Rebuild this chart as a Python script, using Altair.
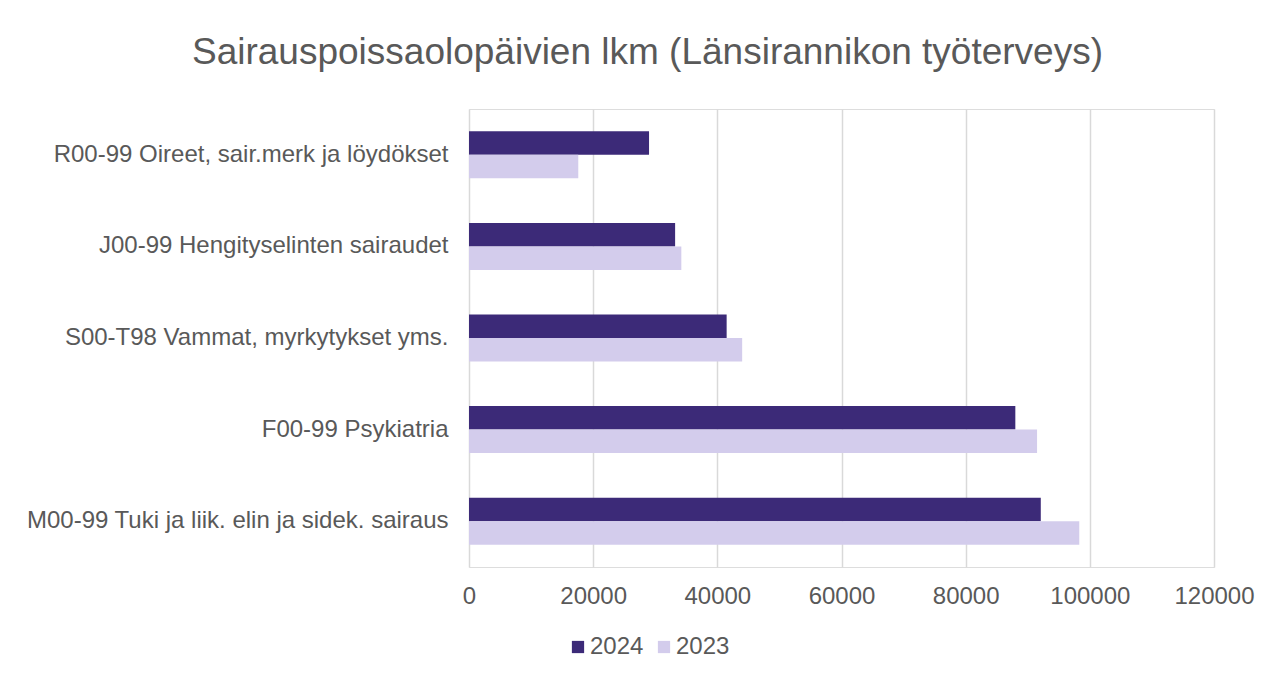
import altair as alt
import pandas as pd

categories = [
    "R00-99 Oireet, sair.merk ja löydökset",
    "J00-99 Hengityselinten sairaudet",
    "S00-T98 Vammat, myrkytykset yms.",
    "F00-99 Psykiatria",
    "M00-99 Tuki ja liik. elin ja sidek. sairaus",
]
values_2024 = [29000, 33200, 41500, 88000, 92100]
values_2023 = [17600, 34200, 44000, 91500, 98300]
series = ["2024", "2023"]
colors = ["#3C2A78", "#D3CCEC"]
x_ticks = [0, 20000, 40000, 60000, 80000, 100000, 120000]

rows = []
for c, v24, v23 in zip(categories, values_2024, values_2023):
    rows.append({"kategoria": c, "vuosi": "2024", "arvo": v24})
    rows.append({"kategoria": c, "vuosi": "2023", "arvo": v23})
df = pd.DataFrame(rows)

FONT = "Liberation Sans"
GREY = "#595959"

chart = (
    alt.Chart(df)
    .mark_bar(stroke=None)
    .encode(
        y=alt.Y(
            "kategoria:N",
            sort=categories,
            scale=alt.Scale(paddingInner=0.487, paddingOuter=0.2435),
            axis=alt.Axis(
                title=None,
                ticks=False,
                domain=False,
                labelPadding=21,
                labelFontSize=24,
                labelColor=GREY,
                labelFont=FONT,
                minExtent=456,
                maxExtent=456,
                labelLimit=460,
            ),
        ),
        yOffset=alt.YOffset(
            "vuosi:N",
            sort=series,
            scale=alt.Scale(paddingInner=0, paddingOuter=0),
        ),
        x=alt.X(
            "arvo:Q",
            scale=alt.Scale(domain=[0, 120000], nice=False),
            axis=alt.Axis(
                title=None,
                values=x_ticks,
                format="d",
                ticks=False,
                domain=False,
                grid=True,
                gridColor="#D9D9D9",
                gridWidth=1.5,
                labelPadding=17,
                labelFlush=False,
                labelFontSize=24,
                labelColor=GREY,
                labelFont=FONT,
            ),
        ),
        color=alt.Color(
            "vuosi:N",
            sort=series,
            scale=alt.Scale(domain=series, range=colors),
            legend=alt.Legend(
                title=None,
                orient="none",
                direction="horizontal",
                legendX=97,
                legendY=526,
                symbolType="square",
                symbolSize=150,
                symbolStrokeWidth=0,
                labelFontSize=24,
                labelColor=GREY,
                labelFont=FONT,
                columnPadding=8,
                labelOffset=0,
            ),
        ),
    )
    .properties(
        width=745,
        height=458,
        title=alt.TitleParams(
            "Sairauspoissaolopäivien lkm (Länsirannikon työterveys)",
            fontSize=37,
            font=FONT,
            fontWeight="normal",
            color=GREY,
            anchor="middle",
            offset=37,
            dx=-194,
        ),
        padding={"top": 26, "left": 5, "right": 5, "bottom": 5},
    )
    .configure_view(stroke=None)
    .configure(background="white")
)

chart.save("out.html", embed_options={"renderer": "svg", "actions": False})
